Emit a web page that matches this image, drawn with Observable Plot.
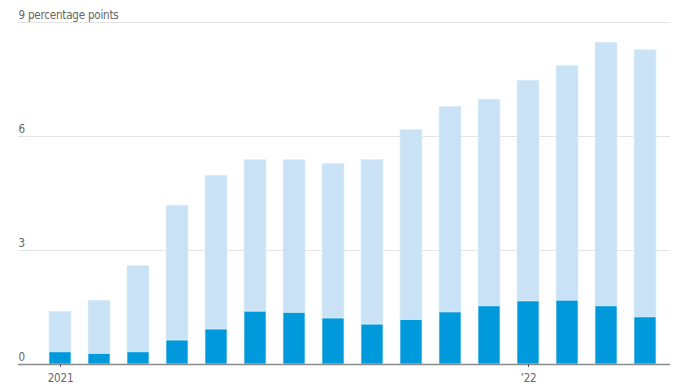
<!DOCTYPE html>
<html>
<head>
<meta charset="utf-8">
<script src="https://cdn.jsdelivr.net/npm/d3@7"></script>
<script src="https://cdn.jsdelivr.net/npm/@observablehq/plot@0.6"></script>
<style>
  html, body { margin: 0; padding: 0; background: #fff; }
  #chart svg { display: block; }
  #chart svg text { letter-spacing: -0.2px; }
</style>
</head>
<body>
<div id="chart"></div>
<script>
const months = ["2021-01","2021-02","2021-03","2021-04","2021-05","2021-06","2021-07","2021-08","2021-09","2021-10","2021-11","2021-12","2022-01","2022-02","2022-03","2022-04"];
const totalValues = [1.39, 1.68, 2.59, 4.18, 4.97, 5.38, 5.38, 5.28, 5.38, 6.17, 6.78, 6.97, 7.47, 7.86, 8.47, 8.27];
const darkValues  = [0.32, 0.28, 0.32, 0.63, 0.92, 1.39, 1.36, 1.21, 1.05, 1.17, 1.37, 1.53, 1.66, 1.68, 1.53, 1.24];
const yTicks = [0, 3, 6, 9];
const yTickLabels = ["0", "3", "6", "9 percentage points"];
const xTicks = ["2021-01", "2022-01"];
const xTickLabels = ["2021", "\u201922"];

const rows = months.map((m, i) => ({month: m, total: totalValues[i], dark: darkValues[i]}));
const yLabelRows = yTicks.map((v, i) => ({v, label: yTickLabels[i]}));

const font = "'DejaVu Sans Condensed', 'Roboto', sans-serif";

const chart = Plot.plot({
  width: 692,
  height: 390,
  marginTop: 22,
  marginBottom: 26,
  marginLeft: 18,
  marginRight: 22,
  style: {fontFamily: font, fontSize: "11.5px", color: "#666", background: "#fff"},
  x: {type: "band", domain: months, range: [38.4, 665.6], paddingInner: 0.44, paddingOuter: 0.22, axis: null, label: null},
  y: {domain: [0, 9], range: [364, 22], axis: null},
  marks: [
    Plot.ruleY(yTicks.filter(d => d !== 0), {stroke: "#e4e4e4", strokeWidth: 1}),
    Plot.barY(rows, {x: "month", y1: d => d.dark, y2: "total", fill: "#cae2f5", stroke: "#e3f0fa", strokeWidth: 0.7}),
    Plot.barY(rows, {x: "month", y1: 0, y2: "dark", fill: "#0099db", stroke: "#e3f0fa", strokeWidth: 0.7}),
    Plot.ruleY([0], {stroke: "#8a8a8a", strokeWidth: 1.5}),
    Plot.text(yLabelRows, {y: "v", text: "label", frameAnchor: "left", textAnchor: "start", dy: -7, fill: "#666", fontSize: 11.5}),
    Plot.axisX({ticks: xTicks, tickFormat: d => xTickLabels[xTicks.indexOf(d)], tickSize: 3, tickPadding: 6, stroke: "#555", fill: "#666", fontSize: 11.5, anchor: "bottom", label: null})
  ]
});
document.getElementById("chart").append(chart);
</script>
</body>
</html>
